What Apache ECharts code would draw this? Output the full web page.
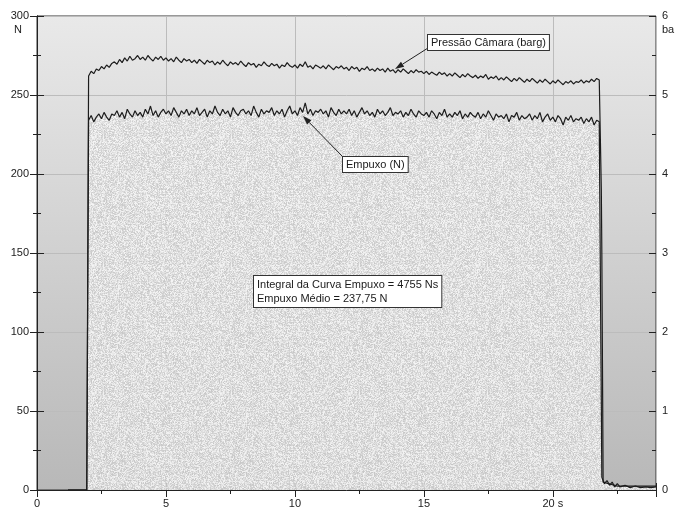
<!DOCTYPE html>
<html>
<head>
<meta charset="utf-8">
<script src="https://cdn.jsdelivr.net/npm/echarts@6/dist/echarts.min.js"></script>
<style>
  html, body { margin: 0; padding: 0; background: #fff; }
  #chart { width: 675px; height: 510px; }
</style>
</head>
<body>
<div id="chart"></div>
<script>
// time axis (s) and tick settings
const xTicks = [0, 5, 10, 15, 20];
const thrustTicks = [0, 50, 100, 150, 200, 250, 300];
const pressureTicks = [0, 1, 2, 3, 4, 5, 6];

// before ignition, both channels sit on zero
const preIgnition = [[1.2, 0], [1.93, 0]];

// burn samples, one every 0.1 s from 2.0 s to 21.8 s
const burnStart = 2.0;
const sampleStep = 0.1;

// Empuxo (N)
const thrustBurn = [
  234, 237, 233, 236, 238, 235, 239, 236, 234, 238,
  237, 240, 236, 239, 235, 241, 238, 236, 240, 237,
  239, 236, 241, 238, 243, 237, 240, 236, 239, 241,
  238, 240, 237, 242, 239, 236, 240, 238, 241, 237,
  240, 238, 242, 237, 239, 241, 236, 240, 238, 243,
  239, 237, 241, 238, 240, 236, 242, 239, 237, 240,
  241, 238, 240, 237, 243, 239, 236, 241, 238, 240,
  239, 242, 237, 240, 238, 241, 236, 240, 243, 238,
  240, 237, 242, 239, 245, 238, 241, 237, 240, 239,
  241, 238, 240, 236, 242, 239, 237, 241, 238, 240,
  238, 241, 237, 240, 236, 239, 242, 238, 240, 237,
  239, 236, 241, 238, 240, 237, 239, 242, 237, 239,
  238, 240, 236, 239, 237, 241, 238, 236, 240, 238,
  237, 239, 236, 240, 238, 235, 239, 237, 241, 236,
  238, 236, 239, 237, 240, 235, 238, 236, 239, 237,
  236, 239, 235, 238, 236, 240, 237, 234, 238, 236,
  237, 235, 238, 233, 237, 236, 239, 234, 237, 235,
  236, 238, 234, 237, 235, 239, 233, 236, 238, 234,
  236, 233, 237, 235, 231, 236, 234, 237, 233, 235,
  234, 236, 232, 235, 233, 236, 231, 234, 233
];

// Pressão Câmara (barg)
const pressureBurn = [
  5.24, 5.30, 5.27, 5.33, 5.31, 5.36, 5.33, 5.38, 5.35, 5.40,
  5.42, 5.39, 5.45, 5.41, 5.47, 5.43, 5.49, 5.44, 5.46, 5.50,
  5.45, 5.48, 5.44, 5.50, 5.46, 5.43, 5.48, 5.45, 5.49, 5.44,
  5.47, 5.43, 5.46, 5.42, 5.48, 5.44, 5.41, 5.46, 5.43, 5.45,
  5.41, 5.44, 5.40, 5.45, 5.42, 5.39, 5.44, 5.41, 5.43, 5.38,
  5.42, 5.39, 5.44, 5.40, 5.37, 5.42, 5.39, 5.41, 5.38, 5.43,
  5.39, 5.36, 5.41, 5.38, 5.40, 5.35, 5.39, 5.37, 5.42, 5.38,
  5.36, 5.40, 5.37, 5.39, 5.34, 5.38, 5.36, 5.41, 5.37, 5.35,
  5.38, 5.34, 5.39, 5.36, 5.42, 5.35, 5.37, 5.33, 5.38, 5.36,
  5.34, 5.37, 5.33, 5.38, 5.35, 5.32, 5.36, 5.34, 5.37, 5.33,
  5.35, 5.31, 5.36, 5.33, 5.35, 5.30, 5.34, 5.32, 5.36, 5.31,
  5.33, 5.30, 5.34, 5.31, 5.33, 5.29, 5.34, 5.30, 5.32, 5.28,
  5.32, 5.29, 5.33, 5.30, 5.27, 5.31, 5.28, 5.32, 5.29, 5.30,
  5.27, 5.30, 5.26, 5.29, 5.27, 5.25, 5.29, 5.26, 5.28, 5.24,
  5.27, 5.24, 5.28, 5.25, 5.22, 5.26, 5.23, 5.27, 5.24, 5.22,
  5.25, 5.21, 5.24, 5.22, 5.26, 5.20, 5.23, 5.21, 5.24, 5.19,
  5.22, 5.19, 5.23, 5.20, 5.17, 5.21, 5.18, 5.22, 5.19, 5.16,
  5.20, 5.17, 5.21, 5.18, 5.15, 5.19, 5.16, 5.20, 5.17, 5.14,
  5.18, 5.15, 5.19, 5.16, 5.13, 5.17, 5.15, 5.18, 5.14, 5.17,
  5.16, 5.19, 5.15, 5.18, 5.16, 5.20, 5.17, 5.21, 5.19
];

// after burnout
const thrustTail = [
  [21.85, 233], [21.9, 8], [22.0, 4], [22.1, 6], [22.2, 3], [22.3, 5],
  [22.4, 2], [22.5, 4], [22.6, 2], [22.8, 3], [23.0, 1.5], [23.2, 2.5],
  [23.4, 1.5], [23.6, 2], [23.8, 1.5], [24.0, 2]
];
const pressureTail = [
  [21.86, 5.18], [21.88, 3.8], [21.9, 3.0], [21.95, 0.1], [22.5, 0.05], [24.0, 0.05]
];

const annotations = {
  pressure: 'Pressão Câmara (barg)',
  thrust: 'Empuxo (N)',
  summary: 'Integral da Curva Empuxo = 4755 Ns\nEmpuxo Médio = 237,75 N'
};

function burnSeries(values) {
  return values.map((v, i) => [+(burnStart + i * sampleStep).toFixed(2), v]);
}

const thrustData = preIgnition.concat(burnSeries(thrustBurn), thrustTail);
const pressureData = preIgnition.concat(burnSeries(pressureBurn), pressureTail);

// speckled texture for the area under the thrust curve (fixed xorshift, only decoration)
function makeSpeckle() {
  const size = 128;
  const c = document.createElement('canvas');
  c.width = size;
  c.height = size;
  const ctx = c.getContext('2d');
  const img = ctx.createImageData(size, size);
  let s = 2463534242;
  for (let i = 0; i < size * size; i++) {
    s ^= s << 13; s >>>= 0;
    s ^= s >>> 17;
    s ^= s << 5; s >>>= 0;
    const g = 200 + (s % 50);
    img.data[i * 4] = g;
    img.data[i * 4 + 1] = g;
    img.data[i * 4 + 2] = g;
    img.data[i * 4 + 3] = 235;
  }
  ctx.putImageData(img, 0, 0);
  return c;
}

function arrow(x1, y1, x2, y2) {
  const dx = x2 - x1, dy = y2 - y1;
  const len = Math.sqrt(dx * dx + dy * dy);
  const ux = dx / len, uy = dy / len;
  const bx = x2 - ux * 9, by = y2 - uy * 9;
  const px = -uy * 3, py = ux * 3;
  return [
    { type: 'line', shape: { x1: x1, y1: y1, x2: bx, y2: by }, style: { stroke: '#222', lineWidth: 1 }, z: 20 },
    { type: 'polygon', shape: { points: [[x2, y2], [bx + px, by + py], [bx - px, by - py]] }, style: { fill: '#222' }, z: 20 }
  ];
}

function boxText(x, y, text, padding) {
  return {
    type: 'text', x: x, y: y, z: 21,
    style: {
      text: text, fill: '#1a1a1a', font: '11px "Liberation Sans", Arial, sans-serif',
      backgroundColor: '#fff', borderColor: '#333', borderWidth: 1,
      padding: padding, lineHeight: 14
    }
  };
}

const tickColor = '#222';
const labelStyle = { color: '#222', fontSize: 11, fontFamily: 'Liberation Sans' };

const myChart = echarts.init(document.getElementById('chart'), null, { renderer: 'canvas' });

const option = {
  animation: false,
  backgroundColor: '#fff',
  textStyle: { fontFamily: 'Liberation Sans' },
  grid: {
    left: 37, right: 19, top: 16, bottom: 20,
    show: true,
    borderColor: '#333',
    borderWidth: 1,
    backgroundColor: new echarts.graphic.LinearGradient(0, 0, 0, 1, [
      { offset: 0, color: '#e9e9e9' },
      { offset: 1, color: '#b8b8b8' }
    ])
  },
  xAxis: [{
    type: 'value', min: xTicks[0], max: 24, interval: 5,
    axisLine: { show: true, lineStyle: { color: tickColor } },
    axisTick: { show: true, length: 7, lineStyle: { color: tickColor } },
    minorTick: { show: true, splitNumber: 2, length: 4, lineStyle: { color: tickColor } },
    splitLine: { show: true, lineStyle: { color: '#bcbcbc' } },
    axisLabel: Object.assign({ margin: 8, showMaxLabel: false,
      formatter: v => (v === xTicks[xTicks.length - 1] ? v + ' s' : String(v)) }, labelStyle)
  }, {
    type: 'value', min: 0, max: 24, interval: 5, position: 'bottom',
    axisLine: { show: false },
    axisTick: { show: true, inside: true, length: 7, lineStyle: { color: tickColor } },
    minorTick: { show: true, splitNumber: 2, length: 4, lineStyle: { color: tickColor } },
    splitLine: { show: false },
    axisLabel: { show: false }
  }],
  yAxis: [{
    type: 'value', min: thrustTicks[0], max: thrustTicks[thrustTicks.length - 1], interval: 50,
    position: 'left',
    axisLine: { show: true, lineStyle: { color: tickColor } },
    axisTick: { show: true, length: 7, lineStyle: { color: tickColor } },
    minorTick: { show: true, splitNumber: 2, length: 4, lineStyle: { color: tickColor } },
    splitLine: { show: true, lineStyle: { color: '#bcbcbc' } },
    axisLabel: Object.assign({ margin: 8 }, labelStyle)
  }, {
    type: 'value', min: pressureTicks[0], max: pressureTicks[pressureTicks.length - 1], interval: 1,
    position: 'right',
    axisLine: { show: true, lineStyle: { color: tickColor } },
    axisTick: { show: true, length: 7, lineStyle: { color: tickColor } },
    minorTick: { show: true, splitNumber: 2, length: 4, lineStyle: { color: tickColor } },
    splitLine: { show: false },
    axisLabel: Object.assign({ margin: 6 }, labelStyle)
  }, {
    type: 'value', min: 0, max: 300, interval: 50, position: 'left',
    axisLine: { show: false },
    axisTick: { show: true, inside: true, length: 7, lineStyle: { color: tickColor } },
    minorTick: { show: true, splitNumber: 2, length: 4, lineStyle: { color: tickColor } },
    splitLine: { show: false },
    axisLabel: { show: false }
  }, {
    type: 'value', min: 0, max: 6, interval: 1, position: 'right',
    axisLine: { show: false },
    axisTick: { show: true, inside: true, length: 7, lineStyle: { color: tickColor } },
    minorTick: { show: true, splitNumber: 2, length: 4, lineStyle: { color: tickColor } },
    splitLine: { show: false },
    axisLabel: { show: false }
  }],
  series: [{
    name: 'Empuxo (N)',
    type: 'line',
    xAxisIndex: 0,
    yAxisIndex: 0,
    data: thrustData,
    showSymbol: false,
    symbol: 'none',
    lineStyle: { color: '#1c1c1c', width: 1.2 },
    areaStyle: { color: { image: makeSpeckle(), repeat: 'repeat' }, opacity: 1 },
    z: 3
  }, {
    name: 'Pressão Câmara (barg)',
    type: 'line',
    xAxisIndex: 0,
    yAxisIndex: 1,
    data: pressureData,
    showSymbol: false,
    symbol: 'none',
    lineStyle: { color: '#1c1c1c', width: 1.2 },
    z: 4
  }],
  graphic: [
    { type: 'text', x: 14, y: 24, style: { text: 'N', fill: '#222', font: '11px "Liberation Sans", Arial, sans-serif' } },
    { type: 'text', x: 662, y: 24, style: { text: 'barg', fill: '#222', font: '11px "Liberation Sans", Arial, sans-serif' } },
    boxText(428, 35, annotations.pressure, [1, 3, 0, 3]),
    boxText(343, 157, annotations.thrust, [1, 3, 0, 3]),
    boxText(254, 276, annotations.summary, [2, 3, 1, 3])
  ].concat(arrow(428, 48, 395, 69), arrow(343, 157, 303, 116))
};

myChart.setOption(option);
</script>
</body>
</html>
